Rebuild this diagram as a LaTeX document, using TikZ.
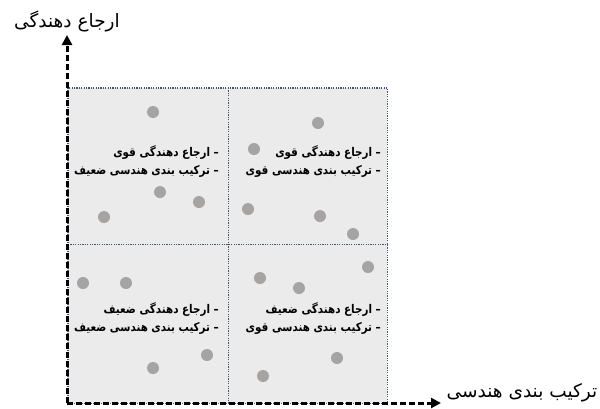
\documentclass[tikz,border=0pt]{standalone}
\usepackage{fontspec}
\usepackage{graphicx}
\TeXXeTstate=1
\newfontfamily\arabicfont[Script=Arabic]{DejaVu Sans}
\usetikzlibrary{arrows.meta}
\newcommand\rtlline[1]{\scalebox{0.86}[1]{\beginR #1\endR}}
\definecolor{quadfill}{HTML}{EBEBEB}
\definecolor{quadline}{HTML}{44546A}
\definecolor{dotgray}{HTML}{A6A3A3}
\tikzset{
  quad/.style={fill=quadfill, anchor=north west, inner sep=0pt},
  gridline/.style={draw=quadline, dash pattern=on 1.2pt off 1.2pt, line width=1.2pt},
  dot/.style={circle, fill=dotgray, minimum size=12pt, inner sep=0pt},
  lbl/.style={font=\arabicfont\bfseries\fontsize{12}{18}\selectfont, align=right, anchor=east, inner sep=0pt},
  axislabel/.style={font=\arabicfont\fontsize{18.5}{20}\selectfont, inner sep=0pt},
  axis/.style={line width=3pt, dash pattern=on 6pt off 3pt, -{Triangle[length=10pt,width=10pt]}}
}
\begin{document}
\begin{tikzpicture}[x=1pt,y=-1pt]
\useasboundingbox (0,0) rectangle (600,408);
% quadrants
\node[quad, minimum width=160pt, minimum height=156pt] (q1) at (68,88) {};
\node[quad, minimum width=159pt, minimum height=156pt] (q2) at (228,88) {};
\node[quad, minimum width=160pt, minimum height=159pt] (q3) at (68,244) {};
\node[quad, minimum width=159pt, minimum height=159pt] (q4) at (228,244) {};
\draw[gridline] (q1.north west) rectangle (q4.south east);
\draw[gridline] (q1.north east) -- (q3.south east);
\draw[gridline] (q1.south west) -- (q2.south east);
% labels
\node[lbl] (t1) at (219,162) {\rtlline{– ارجاع دهندگی قوی}\\\rtlline{– ترکیب بندی هندسی ضعیف}};
\node[lbl] (t2) at (381,162) {\rtlline{– ارجاع دهندگی قوی}\\\rtlline{– ترکیب بندی هندسی قوی}};
\node[lbl] (t3) at (219,318) {\rtlline{– ارجاع دهندگی ضعیف}\\\rtlline{– ترکیب بندی هندسی ضعیف}};
\node[lbl] (t4) at (381,318) {\rtlline{– ارجاع دهندگی ضعیف}\\\rtlline{– ترکیب بندی هندسی قوی}};
% dots
\node[dot] (d1) at (153,112) {};
\node[dot] (d2) at (160,192) {};
\node[dot] (d3) at (199,202) {};
\node[dot] (d4) at (104,217) {};
\node[dot] (d5) at (318,123) {};
\node[dot] (d6) at (254,149) {};
\node[dot] (d7) at (248,209) {};
\node[dot] (d8) at (320,216) {};
\node[dot] (d9) at (353,234) {};
\node[dot] (d10) at (83,283) {};
\node[dot] (d11) at (126,283) {};
\node[dot] (d12) at (207,355) {};
\node[dot] (d13) at (153,368) {};
\node[dot] (d14) at (368,267) {};
\node[dot] (d15) at (260,278) {};
\node[dot] (d16) at (299,288) {};
\node[dot] (d17) at (337,358) {};
\node[dot] (d18) at (263,376) {};
% axes
\coordinate (o) at (67,403);
\coordinate (ytip) at (67,35);
\coordinate (xtip) at (441,403);
\draw[axis] (o) -- (ytip);
\draw[axis] (o) -- (xtip);
\node[axislabel] (ylab) at (67,21) {\beginR ارجاع دهندگی\endR};
\node[axislabel] (xlab) at (522,393) {\beginR ترکیب بندی هندسی\endR};
\end{tikzpicture}
\end{document}
